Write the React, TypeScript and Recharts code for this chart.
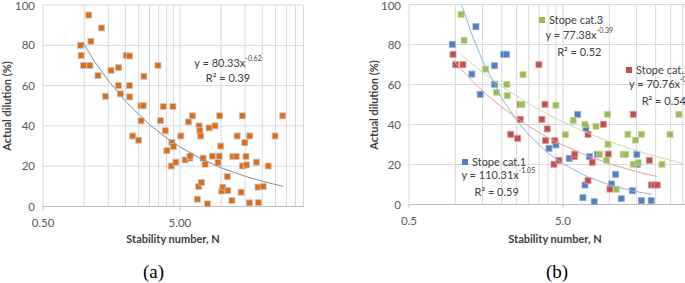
import React from "react";
import { ScatterChart, Scatter, XAxis, YAxis, CartesianGrid } from "recharts";

// stability number N (log axis) vs actual dilution (%)
const xGridTicks = [0.5, 1, 1.5, 2, 2.5, 3, 3.5, 4, 4.5, 5, 10, 15, 20, 25, 30, 35, 40];
const xLabelTicks = [0.5, 5];
const yTicks = [0, 20, 40, 60, 80, 100];

// (a) all stopes
const allStopes: [number, number][] = [
  [0.94, 80], [0.95, 75], [0.99, 70], [1.08, 95], [1.1, 70], [1.12, 82], [1.26, 65], [1.34, 88.6],
  [1.43, 54.7], [1.57, 67.6], [1.78, 69], [1.78, 60], [1.84, 55.9], [2.03, 75], [2.14, 74.7], [2.14, 60],
  [2.15, 54.4], [2.6, 50], [2.7, 50], [2.73, 64.6], [2.6, 42.5], [2.26, 35], [2.5, 32.9], [3.46, 70],
  [3.61, 42.6], [3.78, 49.6], [3.91, 37.6], [4.45, 49.6], [5.08, 35], [5.78, 42], [6.18, 45], [6.91, 40],
  [7.0, 37.6], [7.1, 35], [8.17, 39], [9.03, 40], [9.77, 45], [13.1, 35], [14.3, 45], [16.2, 35],
  [24.8, 35], [28.2, 45], [4.02, 27.7], [4.37, 31.7], [4.48, 29.7], [4.32, 20.1], [4.67, 22], [5.46, 23.1],
  [5.91, 24], [5.94, 25], [6.71, 3.6], [6.86, 9.9], [7.18, 11.9], [7.39, 24], [7.64, 21], [7.94, 1.3],
  [8.64, 25], [9.5, 21.8], [9.69, 25], [9.94, 30], [10.1, 7.7], [10.3, 9.6], [11.1, 14.8], [11.2, 7.9],
  [12.0, 2.9], [12.2, 24.8], [12.9, 24.8], [14.0, 7.1], [14.3, 20.1], [14.9, 31.7], [15.2, 24.8], [15.3, 20.6],
  [16.1, 1.8], [18.1, 22], [18.6, 9.6], [18.7, 1.9], [20.3, 9.9], [22.1, 20.1],
];
const trendAll: [number, number][] = [
  [0.97, 81.8], [1.2, 71.6], [1.5, 62.5], [2, 52.3], [2.5, 45.8], [3, 40.6], [4, 34], [5, 29.6],
  [7, 24], [10, 19.2], [15, 15], [20, 12.5], [28.5, 10],
];

// (b) by stope category
const cat1: [number, number][] = [
  [0.955, 80.1], [1.36, 88.9], [1.28, 65.2], [1.45, 55.1], [1.8, 69.4], [1.8, 60.1], [2.06, 75.1], [2.15, 75.1],
  [6.23, 45.1], [7.05, 38.1], [4.06, 28.1], [4.5, 29.8], [5.49, 23.1], [7.45, 23.9], [6.95, 9.75], [6.74, 3.4],
  [7.98, 1.4], [8.4, 25.1], [10.35, 10.25], [11.0, 15.1], [11.96, 2.9], [14.1, 6.9], [15.1, 25.1], [15.2, 20.1],
  [16.2, 1.9], [18.7, 1.9],
];
const cat2: [number, number][] = [
  [0.966, 75.1], [1.005, 69.9], [1.12, 69.9], [2.64, 50.1], [2.64, 42.6], [2.29, 35.1], [2.54, 33.1], [3.49, 69.9],
  [3.82, 50.1], [3.65, 42.6], [3.95, 37.8], [3.86, 31.9], [4.43, 31.9], [4.37, 20.1], [4.71, 22.1], [5.92, 23.9],
  [5.97, 25.2], [7.27, 35.1], [7.27, 11.9], [7.75, 21.1], [9.14, 40.1], [9.84, 25.2], [10.1, 7.7], [14.3, 45.1],
  [18.2, 22.1], [18.8, 9.75], [19.6, 9.75], [20.5, 9.75],
];
const cat3: [number, number][] = [
  [1.09, 95.1], [1.14, 82.1], [1.57, 67.7], [1.85, 56.1], [2.16, 60.1], [2.17, 54.4], [2.75, 64.9], [2.71, 50.1],
  [4.5, 49.6], [5.18, 34.9], [5.83, 42.1], [6.95, 40.1], [8.19, 39.1], [9.75, 45.1], [13.2, 35.1], [14.8, 32.2],
  [16.2, 35.1], [24.8, 35.1], [28.3, 45.1], [8.66, 25.1], [9.8, 30.1], [9.61, 22.1], [11.1, 7.6], [12.3, 25.1],
  [12.8, 25.1], [14.3, 20.1], [15.4, 20.9], [22.0, 20.1],
];
const trendCat1: [number, number][] = [
  [1.1, 99.6], [1.3, 83.6], [1.5, 72.1], [2, 53.3], [2.5, 42], [3, 34.8], [4, 25.7], [5, 20.4],
  [7, 14.3], [10, 9.8], [14, 6.9], [18.8, 5.1],
];
const trendCat2: [number, number][] = [
  [0.97, 71.9], [1.2, 64.2], [1.5, 56.8], [2, 48.7], [3, 39.1], [4, 33.4], [5, 29.7], [7, 24.7],
  [10, 20.4], [15, 16.4], [20.3, 14],
];
const trendCat3: [number, number][] = [
  [1.1, 74.6], [1.5, 66.1], [2, 59.1], [3, 50.4], [4, 45], [5, 41.3], [7, 36.2], [10, 31.5],
  [15, 26.9], [20, 24.1], [30, 20.5],
];

const toPts = (arr: [number, number][]) => arr.map(([n, d]) => ({ n, d }));

const FONT = "Lato, 'Open Sans', sans-serif";
const TEXT = "#595959";

const square = (fill: string, stroke: string) => (p: any) => (
  <rect x={p.cx - 3} y={p.cy - 3} width={6} height={6} fill={fill} stroke={stroke} strokeWidth={0.8} />
);
const noMarker = () => <g />;

const XTick = (digits: number) => (p: any) => {
  const v = p.payload.value;
  if (!xLabelTicks.includes(v)) return <g />;
  return (
    <g>
      <line x1={p.x} x2={p.x} y1={p.y - 8} y2={p.y - 4} stroke="#bfbfbf" />
      <text x={p.x} y={p.y + 12} textAnchor="middle" fontSize={11.5} fill={TEXT} fontFamily={FONT}>
        {v.toFixed(digits)}
      </text>
    </g>
  );
};

interface PanelProps {
  left: number;
  width: number;
  yAxisWidth: number;
  right: number;
  top: number;
  bottom: number;
  digits: number;
  children: React.ReactNode;
}

function Panel({ left, width, yAxisWidth, right, top, bottom, digits, children }: PanelProps) {
  const height = 283;
  return (
    <div style={{ position: "absolute", left, top: 0 }}>
      <ScatterChart width={width} height={height} margin={{ top, right, left: 0, bottom: height - bottom - 30 }}>
        <CartesianGrid stroke="#d9d9d9" />
        <XAxis
          type="number"
          dataKey="n"
          scale="log"
          domain={[0.5, 40]}
          allowDataOverflow
          ticks={xGridTicks}
          interval={0}
          height={30}
          axisLine={{ stroke: "#bfbfbf" }}
          tickLine={false}
          tick={XTick(digits)}
        />
        <YAxis
          type="number"
          dataKey="d"
          domain={[0, 100]}
          ticks={yTicks}
          width={yAxisWidth}
          axisLine={false}
          tickLine={false}
          tick={{ fontSize: 11.5, fill: TEXT, fontFamily: FONT }}
        />
        {children}
      </ScatterChart>
    </div>
  );
}

const abs = (x: number, y: number, extra: React.CSSProperties = {}): React.CSSProperties => ({
  position: "absolute",
  left: x,
  top: y,
  whiteSpace: "nowrap",
  fontFamily: FONT,
  fontSize: 11,
  color: "#404040",
  lineHeight: 1,
  ...extra,
});
const centered = { transform: "translate(-50%, -50%)" };
const sup: React.CSSProperties = { fontSize: 7, verticalAlign: "top", position: "relative", top: -2 };
const swatch = (c: string): React.CSSProperties => ({
  display: "inline-block", width: 6, height: 6, background: c, marginRight: 4, position: "relative", top: -1,
});

export default function App() {
  return (
    <div style={{ position: "fixed", left: 0, top: 0, width: 685, height: 283, overflow: "hidden", background: "#fff" }}>
      <Panel left={0} width={340} yAxisWidth={43} right={36.5} top={5} bottom={206.5} digits={2}>
        <Scatter data={toPts(allStopes)} shape={square("#E46C0A", "#b8c7dc")} isAnimationActive={false} />
        <Scatter data={toPts(trendAll)} shape={noMarker} line={{ stroke: "#8c8c8c", strokeWidth: 1 }} isAnimationActive={false} />
      </Panel>
      <Panel left={340} width={380} yAxisWidth={69} right={18} top={4.5} bottom={204.5} digits={1}>
        <Scatter data={toPts(cat1)} shape={square("#4F81BD", "#8eaad2")} isAnimationActive={false} />
        <Scatter data={toPts(cat2)} shape={square("#C0504D", "#d99593")} isAnimationActive={false} />
        <Scatter data={toPts(cat3)} shape={square("#9BBB59", "#c2d69b")} isAnimationActive={false} />
        <Scatter data={toPts(trendCat1)} shape={noMarker} line={{ stroke: "#95b3d7", strokeWidth: 1 }} isAnimationActive={false} />
        <Scatter data={toPts(trendCat2)} shape={noMarker} line={{ stroke: "#e6a09e", strokeWidth: 1 }} isAnimationActive={false} />
        <Scatter data={toPts(trendCat3)} shape={noMarker} line={{ stroke: "#c9dba3", strokeWidth: 1 }} isAnimationActive={false} />
      </Panel>

      {/* axis titles */}
      <div style={abs(6, 106, { transform: "translate(-50%, -50%) rotate(-90deg)", fontWeight: 700 })}>Actual dilution (%)</div>
      <div style={abs(173, 238, { ...centered, fontWeight: 700 })}>Stability number, N</div>
      <div style={abs(373, 105, { transform: "translate(-50%, -50%) rotate(-90deg)", fontWeight: 700 })}>Actual dilution (%)</div>
      <div style={abs(555, 238, { ...centered, fontWeight: 700 })}>Stability number, N</div>

      {/* panel captions */}
      <div style={abs(153.5, 271, { ...centered, fontFamily: "'Liberation Serif', 'DejaVu Serif', serif", fontSize: 19, color: "#000" })}>(a)</div>
      <div style={abs(557, 271, { ...centered, fontFamily: "'Liberation Serif', 'DejaVu Serif', serif", fontSize: 19, color: "#000" })}>(b)</div>

      {/* (a) trend annotation */}
      <div style={abs(228, 62, centered)}>y = 80.33x<span style={sup}>-0.62</span></div>
      <div style={abs(228, 77, centered)}>R² = 0.39</div>

      {/* (b) trend annotations */}
      <div style={abs(539, 14)}><span style={swatch("#9BBB59")} />Stope cat.3</div>
      <div style={abs(579.3, 34.3, centered)}>y = 77.38x<span style={sup}>-0.39</span></div>
      <div style={abs(579.3, 51, centered)}>R² = 0.52</div>

      <div style={abs(626, 64)}><span style={swatch("#C0504D")} />Stope cat.2</div>
      <div style={abs(629, 78)}>y = 70.76x<span style={sup}>-0.54</span></div>
      <div style={abs(641.7, 95)}>R² = 0.54</div>

      <div style={abs(462, 156)}><span style={swatch("#4F81BD")} />Stope cat.1</div>
      <div style={abs(498.3, 174.3, centered)}>y = 110.31x<span style={sup}>-1.05</span></div>
      <div style={abs(496.7, 190.7, centered)}>R² = 0.59</div>
    </div>
  );
}
